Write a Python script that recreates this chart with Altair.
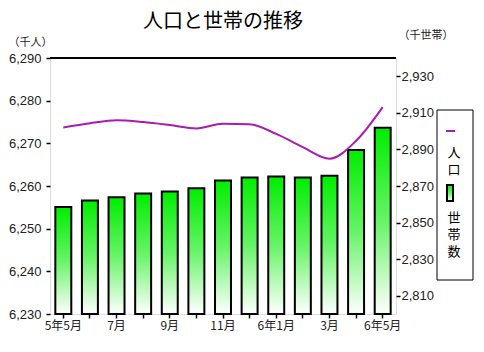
import altair as alt
import pandas as pd

months = ["5年5月", "6月", "7月", "8月", "9月", "10月", "11月", "12月",
          "6年1月", "2月", "3月", "4月", "6年5月"]
shown_labels = ["5年5月", "7月", "9月", "11月", "6年1月", "3月", "6年5月"]
population = [6273.7, 6274.7, 6275.4, 6275.0, 6274.3, 6273.5, 6274.6,
              6274.5, 6272.2, 6269.1, 6266.4, 6270.6, 6278.5]
households = [2858.5, 2862.1, 2863.9, 2865.9, 2867.0, 2868.8, 2873.0,
              2874.6, 2875.2, 2874.6, 2875.6, 2889.7, 2901.9]
pop_ticks = [6230, 6240, 6250, 6260, 6270, 6280, 6290]
hh_ticks = [2810, 2830, 2850, 2870, 2890, 2910, 2930]
legend_line_chars = ["人", "口"]
legend_bar_chars = ["世", "帯", "数"]
title_text = "人口と世帯の推移"

df = pd.DataFrame({"month": months, "pop": population, "hh": households})

JP = "Noto Sans CJK JP"
NUM = "Liberation Sans"

green_grad = alt.Gradient(
    gradient="linear",
    stops=[alt.GradientStop(color="#00ee00", offset=0),
           alt.GradientStop(color="#66f466", offset=0.5),
           alt.GradientStop(color="#ffffff", offset=1)],
    x1=0, x2=0, y1=0, y2=1,
)

label_expr = "indexof(" + str(shown_labels) + ", datum.value) >= 0 ? datum.value : ''"

x_enc = alt.X(
    "month:N", sort=months,
    scale=alt.Scale(paddingInner=0.4, paddingOuter=0.2),
    axis=alt.Axis(title=None, labelAngle=0, labelExpr=label_expr, labelFont=JP,
                  labelFontSize=12, labelColor="#222", tickSize=4, tickColor="#000",
                  tickWidth=1.5, labelPadding=2, domain=False),
)

bars = alt.Chart(df).mark_bar(fill=green_grad, stroke="#000", strokeWidth=2).encode(
    x=x_enc,
    y=alt.Y("hh:Q", scale=alt.Scale(domain=[2800, 2940], nice=False, zero=False),
            axis=alt.Axis(orient="right", values=hh_ticks, format=",.0f", grid=False,
                          labelFont=NUM, labelFontSize=13, labelColor="#222",
                          tickSize=4, tickColor="#000", tickWidth=1.5, labelPadding=1,
                          domain=False, title="（千世帯）", titleAngle=0, titleX=2,
                          titleY=-23, titleAlign="left", titleBaseline="middle",
                          titleFont=JP, titleFontSize=11, titleFontWeight="normal",
                          titleColor="#222")),
    y2=alt.datum(2800),
)

line = alt.Chart(df).mark_line(color="#a81cb4", strokeWidth=2, interpolate="monotone").encode(
    x=x_enc,
    y=alt.Y("pop:Q", scale=alt.Scale(domain=[6230, 6290], nice=False, zero=False),
            axis=alt.Axis(orient="left", values=pop_ticks, format=",.0f", grid=False,
                          labelFont=NUM, labelFontSize=13, labelColor="#222",
                          tickSize=4, tickColor="#000", tickWidth=1.5, labelPadding=5,
                          domain=False, title="（千人）", titleAngle=0, titleX=-42,
                          titleY=-16, titleAlign="left", titleBaseline="middle",
                          titleFont=JP, titleFontSize=11, titleFontWeight="normal",
                          titleColor="#222")),
)

one = pd.DataFrame({"k": [0]})
title_mark = alt.Chart(pd.DataFrame({"t": [title_text]})).mark_text(
    font=JP, fontSize=20, color="#000", baseline="middle", align="center").encode(
    text="t:N", x=alt.value(173), y=alt.value(-36))
frame_top = alt.Chart(one).mark_rule(color="#000", strokeWidth=2).encode(
    x=alt.value(0), x2=alt.value(346), y=alt.value(0))
legend_box = alt.Chart(one).mark_rect(fill="white", stroke="#000", strokeWidth=1).encode(
    x=alt.value(387), x2=alt.value(423), y=alt.value(52), y2=alt.value(222))
legend_dash = alt.Chart(one).mark_rule(color="#a81cb4", strokeWidth=2).encode(
    x=alt.value(396), x2=alt.value(405), y=alt.value(73))
legend_icon = alt.Chart(one).mark_rect(fill=green_grad, stroke="#000", strokeWidth=2).encode(
    x=alt.value(397), x2=alt.value(403), y=alt.value(127), y2=alt.value(143))

lt1 = pd.DataFrame({"t": legend_line_chars, "i": list(range(len(legend_line_chars)))})
lt2 = pd.DataFrame({"t": legend_bar_chars, "i": list(range(len(legend_bar_chars)))})
legend_text1 = alt.Chart(lt1).transform_calculate(py="95 + datum.i * 17").mark_text(
    font=JP, fontSize=13, color="#000", baseline="middle", align="center").encode(
    text="t:N", x=alt.value(404),
    y=alt.Y("py:Q", scale=None, axis=None))
legend_text2 = alt.Chart(lt2).transform_calculate(py="160 + datum.i * 17").mark_text(
    font=JP, fontSize=13, color="#000", baseline="middle", align="center").encode(
    text="t:N", x=alt.value(404),
    y=alt.Y("py:Q", scale=None, axis=None))

chart = alt.layer(bars, line, title_mark, frame_top, legend_box, legend_dash, legend_icon,
                  legend_text1, legend_text2).resolve_scale(
    y="independent"
).properties(
    width=346, height=256,
    padding={"left": 50, "top": 58, "right": 88, "bottom": 38},
    autosize=alt.AutoSizeParams(type="none"),
).configure_view(stroke="#000", strokeWidth=2).configure(background="white")

chart.save("out.html", embed_options={"renderer": "svg", "actions": False})
